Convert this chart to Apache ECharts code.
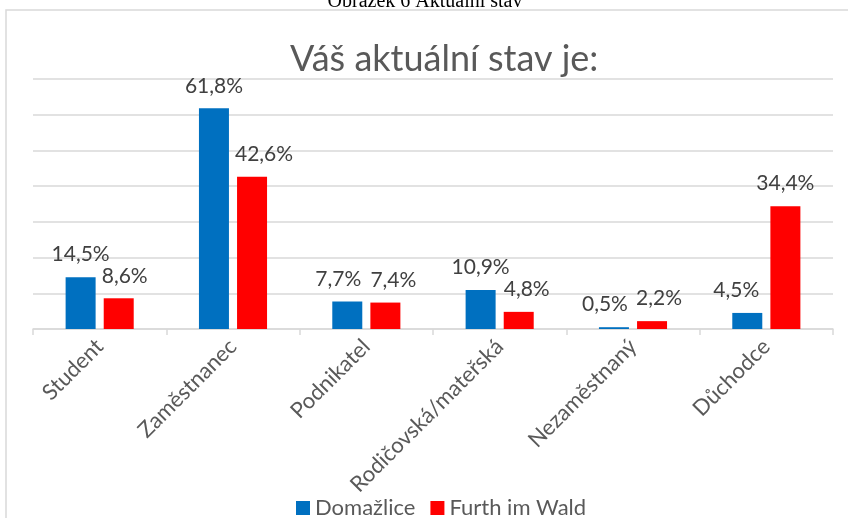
<!DOCTYPE html>
<html>
<head>
<meta charset="utf-8">
<script src="https://cdn.jsdelivr.net/npm/echarts@6/dist/echarts.min.js"></script>
<style>
html,body{margin:0;padding:0;background:#fff;}
#chart{width:848px;height:518px;}
</style>
</head>
<body>
<div id="chart"></div>
<script>
var categories = ['Student', 'Zaměstnanec', 'Podnikatel', 'Rodičovská/mateřská', 'Nezaměstnaný', 'Důchodce'];
var domazlice = [14.5, 61.8, 7.7, 10.9, 0.5, 4.5];
var furth = [8.6, 42.6, 7.4, 4.8, 2.2, 34.4];
var seriesNames = ['Domažlice', 'Furth im Wald'];
var titleText = 'Váš aktuální stav je:';
var captionText = 'Obrázek 6 Aktuální stav';

// label nudges (style only) to mimic Excel's overlap avoidance
var domLabelShift = [0, 0, -9, 0, -9, -11];
var furthLabelShift = [6, 12, 8, 8, 7, 0];

var FONT = 'Lato';
var chart = echarts.init(document.getElementById('chart'));
function fmt(p){ return p.value.toFixed(1).replace('.', ',') + '%'; }
function mkLabel(){ return {show:true, position:'top', distance:12, formatter:fmt, color:'#404040', fontSize:21, fontFamily:FONT}; }
function buildData(vals, shifts){
  return vals.map(function(v, i){ return {value:v, label:{offset:[shifts[i], 0]}}; });
}
chart.setOption({
  animation:false,
  backgroundColor:'#fff',
  graphic:[
    {type:'rect', shape:{x:6, y:10, width:900, height:600}, style:{fill:'none', stroke:'#d9d9d9', lineWidth:1.5}, z:-1},
    {type:'text', x:425, y:12, style:{text:captionText, font:'20px "Liberation Serif"', fill:'#000', textAlign:'center', textVerticalAlign:'bottom'}}
  ],
  title:{text:titleText, left:285, top:36, textStyle:{fontFamily:FONT, fontSize:36, fontWeight:'normal', color:'#595959'}},
  legend:{data:seriesNames, bottom:-6, left:291, icon:'rect', itemWidth:14, itemHeight:14, itemGap:15,
    textStyle:{fontFamily:FONT, fontSize:22, color:'#595959'}},
  grid:{left:33, right:15, top:79, bottom:189, containLabel:false},
  xAxis:{type:'category', data:categories,
    axisLine:{lineStyle:{color:'#d9d9d9', width:1.5}},
    axisTick:{show:true, length:6, lineStyle:{color:'#d9d9d9', width:1.5}},
    axisLabel:{rotate:45, margin:14, color:'#595959', fontSize:22, fontFamily:FONT, interval:0}},
  yAxis:{type:'value', min:0, max:70, interval:10,
    axisLabel:{show:false}, axisLine:{show:false}, axisTick:{show:false},
    splitLine:{lineStyle:{color:'#d9d9d9', width:1.5}}},
  series:[
    {name:seriesNames[0], type:'bar', data:buildData(domazlice, domLabelShift), barWidth:30, barGap:'27%', itemStyle:{color:'#0070C0'}, label:mkLabel()},
    {name:seriesNames[1], type:'bar', data:buildData(furth, furthLabelShift), barWidth:30, itemStyle:{color:'#FF0000'}, label:mkLabel()}
  ]
});
</script>
</body>
</html>
